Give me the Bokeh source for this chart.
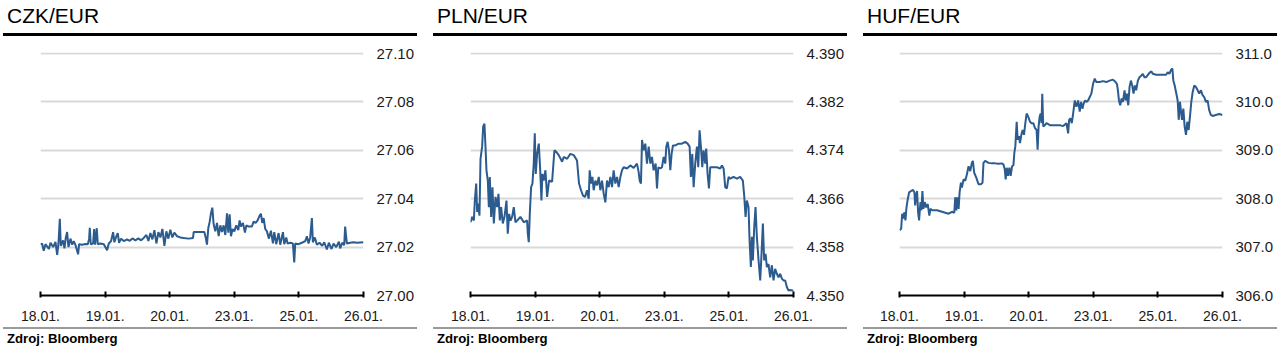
from bokeh.plotting import figure
from bokeh.layouts import row, column
from bokeh.models import Range1d, FixedTicker, PrintfTickFormatter, Div
from bokeh.embed import file_html
from bokeh.resources import INLINE

# ---------------- data ----------------
x_ticks = [0, 1, 2, 3, 4, 5]
x_tick_labels = ["18.01.", "19.01.", "20.01.", "23.01.", "25.01.", "26.01."]

titles = ["CZK/EUR", "PLN/EUR", "HUF/EUR"]
source_text = "Zdroj: Bloomberg"

czk_yticks = [27.00, 27.02, 27.04, 27.06, 27.08, 27.10]
pln_yticks = [4.350, 4.358, 4.366, 4.374, 4.382, 4.390]
huf_yticks = [306.0, 307.0, 308.0, 309.0, 310.0, 311.0]

czk_t = [0.00, 0.026, 0.05, 0.077, 0.13, 0.155, 0.196, 0.232, 0.258, 0.278, 0.299, 0.314, 0.35, 0.371,
         0.392, 0.412, 0.433, 0.464, 0.49, 0.515, 0.546, 0.582, 0.598, 0.644, 0.696, 0.732, 0.753, 0.763,
         0.778, 0.814, 0.83, 0.845, 0.871, 0.887, 0.928, 0.98, 1.031, 1.057, 1.093, 1.124, 1.144, 1.17,
         1.196, 1.216, 1.247, 1.289, 1.34, 1.381, 1.423, 1.469, 1.515, 1.557, 1.598, 1.639, 1.67, 1.701,
         1.732, 1.763, 1.794, 1.825, 1.856, 1.887, 1.918, 1.948, 1.979, 2.01, 2.041, 2.072, 2.113, 2.165,
         2.216, 2.294, 2.361, 2.371, 2.474, 2.536, 2.557, 2.577, 2.598, 2.619, 2.639, 2.66, 2.68, 2.706,
         2.732, 2.758, 2.784, 2.81, 2.835, 2.861, 2.887, 2.907, 2.928, 2.948, 2.974, 3.0, 3.031, 3.062,
         3.082, 3.103, 3.134, 3.165, 3.186, 3.222, 3.273, 3.299, 3.33, 3.361, 3.392, 3.412, 3.433, 3.454,
         3.479, 3.505, 3.536, 3.567, 3.598, 3.619, 3.649, 3.686, 3.711, 3.753, 3.773, 3.804, 3.825, 3.866,
         3.907, 3.928, 3.943, 3.995, 4.046, 4.098, 4.124, 4.149, 4.175, 4.201, 4.216, 4.247, 4.278, 4.32,
         4.361, 4.392, 4.433, 4.464, 4.505, 4.536, 4.577, 4.619, 4.639, 4.67, 4.701, 4.716, 4.742, 4.794,
         4.845, 4.897, 5.0]
czk_v = [27.0212, 27.0214, 27.0185, 27.0212, 27.0192, 27.0218, 27.0200, 27.0222, 27.0168, 27.0215,
         27.0317, 27.0205, 27.0228, 27.0195, 27.0240, 27.0262, 27.0200, 27.0235, 27.0210, 27.0225,
         27.0205, 27.0170, 27.0212, 27.0210, 27.0213, 27.0212, 27.0235, 27.0280, 27.0212, 27.0215,
         27.0275, 27.0210, 27.0278, 27.0212, 27.0215, 27.0212, 27.0187, 27.0215, 27.0225, 27.0262,
         27.0220, 27.0242, 27.0258, 27.0218, 27.0235, 27.0225, 27.0232, 27.0226, 27.0236, 27.0228,
         27.0236, 27.0228, 27.0238, 27.0250, 27.0225, 27.0258, 27.0232, 27.0270, 27.0215, 27.0262,
         27.0240, 27.0275, 27.0205, 27.0265, 27.0235, 27.0272, 27.0240, 27.0260, 27.0245, 27.0240,
         27.0238, 27.0235, 27.0238, 27.0262, 27.0262, 27.0262, 27.0240, 27.0210, 27.0280, 27.0305,
         27.0340, 27.0363, 27.0295, 27.0265, 27.0300, 27.0245, 27.0290, 27.0262, 27.0290, 27.0250,
         27.0340, 27.0260, 27.0335, 27.0245, 27.0275, 27.0265, 27.0290, 27.0270, 27.0310, 27.0285,
         27.0300, 27.0260, 27.0290, 27.0285, 27.0285, 27.0305, 27.0300, 27.0310, 27.0330, 27.0338,
         27.0300, 27.0320, 27.0275, 27.0265, 27.0235, 27.0268, 27.0215, 27.0262, 27.0212, 27.0258,
         27.0210, 27.0262, 27.0212, 27.0240, 27.0215, 27.0218, 27.0215, 27.0137, 27.0215, 27.0212,
         27.0218, 27.0225, 27.0245, 27.0215, 27.0240, 27.0320, 27.0220, 27.0240, 27.0210, 27.0218,
         27.0205, 27.0220, 27.0190, 27.0218, 27.0192, 27.0215, 27.0200, 27.0222, 27.0195, 27.0218,
         27.0208, 27.0285, 27.0215, 27.0218, 27.0220, 27.0218, 27.0220]

pln_t = [0.0, 0.026, 0.052, 0.067, 0.088, 0.103, 0.119, 0.139, 0.155, 0.18, 0.196, 0.216, 0.232, 0.247,
         0.268, 0.284, 0.299, 0.32, 0.34, 0.361, 0.387, 0.412, 0.433, 0.454, 0.474, 0.5, 0.526, 0.557,
         0.577, 0.598, 0.619, 0.644, 0.67, 0.696, 0.722, 0.773, 0.825, 0.876, 0.887, 0.902, 0.918, 0.938,
         0.959, 0.979, 0.995, 1.01, 1.031, 1.057, 1.077, 1.098, 1.113, 1.134, 1.16, 1.186, 1.216, 1.263,
         1.299, 1.33, 1.366, 1.418, 1.443, 1.495, 1.546, 1.598, 1.649, 1.68, 1.711, 1.742, 1.773, 1.804,
         1.83, 1.845, 1.866, 1.887, 1.907, 1.933, 1.959, 1.985, 2.01, 2.036, 2.062, 2.088, 2.113, 2.139,
         2.165, 2.191, 2.216, 2.242, 2.268, 2.294, 2.32, 2.345, 2.371, 2.423, 2.474, 2.526, 2.577, 2.603,
         2.619, 2.639, 2.655, 2.68, 2.706, 2.732, 2.758, 2.784, 2.809, 2.835, 2.866, 2.887, 2.907, 2.938,
         2.964, 2.99, 3.015, 3.031, 3.052, 3.072, 3.093, 3.113, 3.134, 3.17, 3.222, 3.273, 3.325, 3.361,
         3.392, 3.412, 3.433, 3.454, 3.479, 3.505, 3.526, 3.546, 3.567, 3.588, 3.608, 3.634, 3.649, 3.67,
         3.691, 3.711, 3.763, 3.814, 3.866, 3.892, 3.918, 3.943, 3.969, 3.995, 4.021, 4.072, 4.124, 4.175,
         4.216, 4.237, 4.258, 4.278, 4.304, 4.32, 4.34, 4.356, 4.371, 4.392, 4.412, 4.433, 4.459, 4.485,
         4.505, 4.526, 4.546, 4.567, 4.588, 4.613, 4.639, 4.665, 4.691, 4.716, 4.742, 4.768, 4.794, 4.82,
         4.845, 4.871, 4.897, 4.923, 4.948, 5.0]
pln_v = [4.3621, 4.3630, 4.3624, 4.3657, 4.3685, 4.3638, 4.3652, 4.3632, 4.3726, 4.3746, 4.3779,
         4.3784, 4.3746, 4.3707, 4.3690, 4.3646, 4.3696, 4.3630, 4.3679, 4.3619, 4.3663, 4.3646, 4.3668,
         4.3624, 4.3646, 4.3619, 4.3630, 4.3657, 4.3602, 4.3635, 4.3624, 4.3630, 4.3646, 4.3621, 4.3624,
         4.3630, 4.3621, 4.3624, 4.3602, 4.3588, 4.3635, 4.3679, 4.3685, 4.3718, 4.3768, 4.3701, 4.3734,
         4.3751, 4.3712, 4.3657, 4.3701, 4.3690, 4.3707, 4.3663, 4.3690, 4.3688, 4.3740, 4.3737, 4.3732,
         4.3721, 4.3729, 4.3726, 4.3734, 4.3732, 4.3723, 4.3685, 4.3674, 4.3665, 4.3663, 4.3674, 4.3660,
         4.3707, 4.3685, 4.3696, 4.3674, 4.3690, 4.3682, 4.3696, 4.3674, 4.3690, 4.3668, 4.3654, 4.3690,
         4.3679, 4.3696, 4.3679, 4.3707, 4.3685, 4.3696, 4.3679, 4.3696, 4.3707, 4.3712, 4.3710, 4.3715,
         4.3711, 4.3718, 4.3704, 4.3690, 4.3685, 4.3757, 4.3740, 4.3751, 4.3718, 4.3746, 4.3718, 4.3729,
         4.3707, 4.3718, 4.3677, 4.3712, 4.3710, 4.3712, 4.3729, 4.3718, 4.3746, 4.3754, 4.3740, 4.3707,
         4.3734, 4.3748, 4.3748, 4.3751, 4.3751, 4.3754, 4.3751, 4.3746, 4.3696, 4.3734, 4.3679, 4.3718,
         4.3746, 4.3712, 4.3773, 4.3746, 4.3712, 4.3740, 4.3718, 4.3743, 4.3701, 4.3677, 4.3712, 4.3712,
         4.3712, 4.3710, 4.3715, 4.3710, 4.3679, 4.3677, 4.3696, 4.3693, 4.3696, 4.3693, 4.3696, 4.3690,
         4.3665, 4.3630, 4.3657, 4.3646, 4.3591, 4.3547, 4.3597, 4.3558, 4.3613, 4.3646, 4.3597, 4.3558,
         4.3525, 4.3569, 4.3619, 4.3558, 4.3569, 4.3547, 4.3552, 4.3530, 4.3550, 4.3525, 4.3544, 4.3536,
         4.3530, 4.3536, 4.3528, 4.3525, 4.3525, 4.3514, 4.3508, 4.3509, 4.3508]

huf_t = [0.0, 0.026, 0.041, 0.057, 0.077, 0.092, 0.108, 0.128, 0.149, 0.18, 0.211, 0.231, 0.242, 0.257,
         0.272, 0.288, 0.303, 0.324, 0.339, 0.355, 0.37, 0.391, 0.411, 0.437, 0.462, 0.478, 0.504, 0.581,
         0.658, 0.709, 0.761, 0.812, 0.848, 0.863, 0.879, 0.894, 0.915, 0.93, 0.951, 0.966, 0.992, 1.017,
         1.043, 1.069, 1.095, 1.12, 1.136, 1.156, 1.187, 1.223, 1.259, 1.285, 1.3, 1.326, 1.377, 1.429,
         1.48, 1.531, 1.583, 1.608, 1.629, 1.644, 1.66, 1.68, 1.701, 1.721, 1.742, 1.763, 1.778, 1.793,
         1.814, 1.829, 1.85, 1.865, 1.886, 1.906, 1.927, 1.948, 1.968, 1.994, 2.02, 2.045, 2.071, 2.097,
         2.122, 2.138, 2.153, 2.169, 2.184, 2.199, 2.21, 2.225, 2.251, 2.276, 2.328, 2.379, 2.431, 2.482,
         2.533, 2.585, 2.61, 2.626, 2.646, 2.667, 2.688, 2.713, 2.739, 2.765, 2.79, 2.811, 2.831, 2.852,
         2.873, 2.893, 2.919, 2.945, 2.97, 2.996, 3.022, 3.047, 3.099, 3.15, 3.201, 3.253, 3.304, 3.345,
         3.366, 3.381, 3.397, 3.417, 3.438, 3.458, 3.484, 3.5, 3.52, 3.541, 3.561, 3.582, 3.602, 3.623,
         3.643, 3.664, 3.69, 3.715, 3.741, 3.767, 3.792, 3.818, 3.869, 3.9, 3.921, 3.972, 4.024, 4.075,
         4.126, 4.152, 4.178, 4.203, 4.224, 4.239, 4.26, 4.281, 4.306, 4.322, 4.342, 4.358, 4.373, 4.394,
         4.414, 4.435, 4.455, 4.476, 4.496, 4.517, 4.538, 4.563, 4.589, 4.615, 4.64, 4.666, 4.692, 4.717,
         4.743, 4.769, 4.794, 4.82, 4.846, 4.897, 4.949, 5.0]
huf_v = [307.35, 307.38, 307.69, 307.59, 307.72, 307.55, 307.82, 307.99, 308.13, 308.16, 308.18,
         308.13, 307.86, 308.06, 308.16, 307.72, 307.55, 307.93, 307.76, 308.16, 307.79, 307.93, 307.82,
         307.89, 307.65, 307.79, 307.76, 307.76, 307.73, 307.71, 307.69, 307.73, 307.71, 308.03, 307.76,
         308.03, 307.79, 308.13, 308.33, 308.23, 308.40, 308.37, 308.50, 308.67, 308.57, 308.74, 308.78,
         308.54, 308.44, 308.30, 308.30, 308.33, 308.74, 308.78, 308.74, 308.73, 308.73, 308.72, 308.73,
         308.71, 308.61, 308.40, 308.64, 308.47, 308.64, 308.47, 308.67, 308.69, 308.95, 309.08, 309.59,
         309.22, 309.29, 309.15, 309.32, 309.42, 309.32, 309.56, 309.76, 309.69, 309.59, 309.56, 309.56,
         309.46, 309.42, 309.01, 309.49, 309.69, 309.76, 309.56, 310.17, 309.49, 309.52, 309.56, 309.52,
         309.52, 309.52, 309.52, 309.50, 309.56, 309.35, 309.63, 309.66, 309.56, 309.76, 310.03, 309.90,
         310.03, 309.80, 310.00, 309.86, 309.97, 310.03, 310.00, 310.03, 310.10, 310.17, 310.37, 310.48,
         310.41, 310.41, 310.43, 310.41, 310.44, 310.46, 310.41, 310.37, 310.24, 310.03, 309.93, 310.07,
         310.00, 310.24, 310.03, 310.17, 309.93, 310.31, 310.44, 310.34, 310.17, 310.34, 310.24, 310.44,
         310.51, 310.54, 310.58, 310.51, 310.51, 310.60, 310.63, 310.58, 310.56, 310.56, 310.56, 310.56,
         310.61, 310.58, 310.66, 310.69, 310.44, 310.34, 310.20, 310.03, 309.63, 310.00, 309.80, 309.63,
         309.86, 309.49, 309.32, 309.59, 309.42, 309.69, 310.00, 310.20, 310.34, 310.31, 310.24, 310.17,
         310.24, 310.14, 310.10, 310.00, 310.03, 309.83, 309.73, 309.71, 309.73, 309.75, 309.73]

# ---------------- styling ----------------
FONT = "Liberation Sans"
LINE_COLOR = "#2b5b8f"
FRAME_W = 323
HEAD_H = 40      # title block height
FIG_H = 287      # figure height (canvas y 40..327)
FOOT_H = 352 - HEAD_H - FIG_H


def header(title, width):
    html = (
        f'<div style="position:relative;width:{width}px;height:{HEAD_H}px;margin:0;padding:0;">'
        f'<div style="position:absolute;left:7px;top:5px;font-family:\'{FONT}\';font-size:21px;'
        f'line-height:21px;color:#000;white-space:nowrap;">{title}</div>'
        f'<div style="position:absolute;left:3px;top:33px;width:414px;height:3px;background:#000;"></div>'
        f'</div>'
    )
    return Div(text=html, width=width, height=HEAD_H, margin=0)


def footer(width):
    html = (
        f'<div style="position:relative;width:{width}px;height:{FOOT_H}px;margin:0;padding:0;">'
        f'<div style="position:absolute;left:3px;top:0px;width:414px;height:2px;background:#9a9a9a;"></div>'
        f'<div style="position:absolute;left:7px;top:5px;font-family:\'{FONT}\';font-size:13.2px;'
        f'line-height:13px;font-weight:bold;color:#000;white-space:nowrap;">{source_text}</div>'
        f'</div>'
    )
    return Div(text=html, width=width, height=FOOT_H, margin=0)


def panel(title, t, v, yticks, fmt, width, left):
    right = width - left - FRAME_W
    span = yticks[-1] - yticks[0]
    p = figure(width=width, height=FIG_H, output_backend="svg", toolbar_location=None,
               x_range=Range1d(0, 5),
               y_range=Range1d(yticks[0], yticks[-1] + span / 242.0),
               y_axis_location="right",
               min_border_left=left, min_border_right=right,
               min_border_top=12, min_border_bottom=32)
    p.outline_line_color = None
    p.background_fill_color = "white"
    p.border_fill_color = "white"

    p.xgrid.visible = False
    p.ygrid.ticker = FixedTicker(ticks=yticks)
    p.ygrid.grid_line_color = "#d9d9d9"
    p.ygrid.grid_line_width = 2

    ya = p.yaxis[0]
    ya.ticker = FixedTicker(ticks=yticks)
    ya.formatter = PrintfTickFormatter(format=fmt)
    ya.axis_line_color = None
    ya.major_tick_line_color = None
    ya.minor_tick_line_color = None
    ya.major_label_standoff = 7
    ya.major_label_text_font = FONT
    ya.major_label_text_font_size = "15px"
    ya.major_label_text_color = "#1a1a1a"

    xa = p.xaxis[0]
    xa.ticker = FixedTicker(ticks=x_ticks)
    xa.major_label_overrides = {tk: lb for tk, lb in zip(x_ticks, x_tick_labels)}
    xa.axis_line_color = "black"
    xa.axis_line_width = 2
    xa.major_tick_line_color = "black"
    xa.major_tick_line_width = 2
    xa.major_tick_in = 4
    xa.major_tick_out = 2
    xa.minor_tick_line_color = None
    xa.major_label_standoff = 13
    xa.major_label_text_font = FONT
    xa.major_label_text_font_size = "14px"
    xa.major_label_text_color = "#1a1a1a"

    p.line(t, v, line_color=LINE_COLOR, line_width=2)

    return column(header(title, width), p, footer(width), spacing=0)


c1 = panel(titles[0], czk_t, czk_v, czk_yticks, "%.2f", 430, 40)
c2 = panel(titles[1], pln_t, pln_v, pln_yticks, "%.3f", 430, 40)
c3 = panel(titles[2], huf_t, huf_v, huf_yticks, "%.1f", 422, 39)

layout = row(c1, c2, c3, spacing=0)
open("out.html", "w").write(file_html(layout, INLINE))
